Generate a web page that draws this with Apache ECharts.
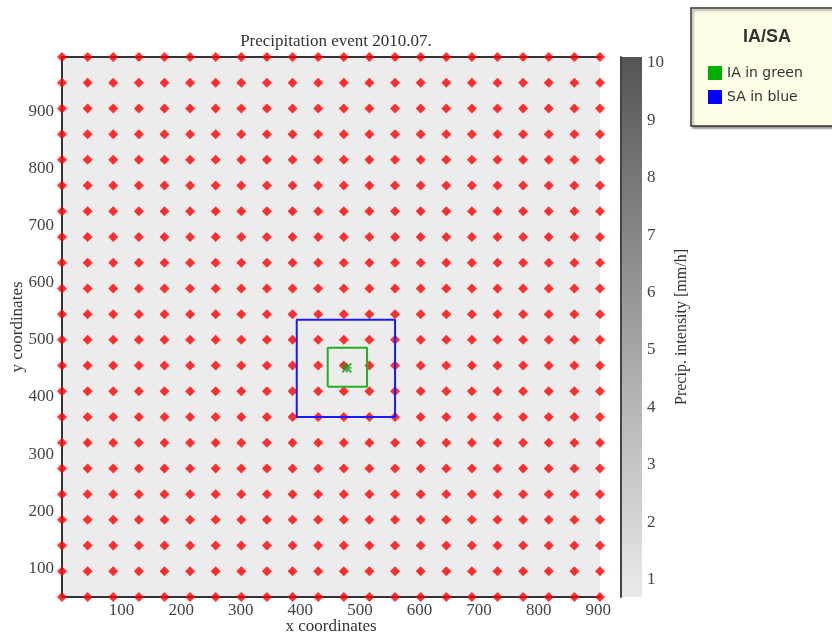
<!DOCTYPE html>
<html>
<head>
<meta charset="utf-8">
<script src="https://cdn.jsdelivr.net/npm/echarts@6/dist/echarts.min.js"></script>
<style>html,body{margin:0;padding:0;background:#fff}#c{width:832px;height:635px}</style>
</head>
<body>
<div id="c"></div>
<script>
// ---- data ----
const titleText = 'Precipitation event 2010.07.';
const xGrid = [0, 43, 86, 129, 172, 215, 258, 301, 344, 387, 430, 473, 516, 559, 602, 645, 688, 731, 774, 817, 860, 903];
const yGrid = [50, 95, 140, 185, 230, 275, 320, 365, 410, 455, 500, 545, 590, 635, 680, 725, 770, 815, 860, 905, 950, 995];
const xTickLabels = [100, 200, 300, 400, 500, 600, 700, 800, 900];
const yTickLabels = [100, 200, 300, 400, 500, 600, 700, 800, 900];
const cbTickLabels = [1, 2, 3, 4, 5, 6, 7, 8, 9, 10];
const cbRange = [0.7, 10.1];
const iaBox = { x0: 446, x1: 512, y0: 418, y1: 486 };   // IA (green)
const saBox = { x0: 394, x1: 559, y0: 365, y1: 535 };   // SA (blue)
const center = [478, 451];

// ---- build ----
const gridPts = [];
for (const y of yGrid) for (const x of xGrid) gridPts.push([x, y]);
function boxPath(b) { return [[b.x0, b.y0], [b.x1, b.y0], [b.x1, b.y1], [b.x0, b.y1], [b.x0, b.y0]]; }

const serif = 'Liberation Serif';
const chart = echarts.init(document.getElementById('c'), null, { renderer: 'canvas' });
chart.setOption({
  animation: false,
  backgroundColor: '#ffffff',
  title: [
    { text: titleText, left: 331, top: 28, textAlign: 'center',
      textStyle: { fontFamily: serif, fontSize: 17, fontWeight: 'normal', color: '#333' } },
    { text: 'IA/SA', left: 762, top: 23, textAlign: 'center',
      textStyle: { fontFamily: 'Liberation Sans', fontSize: 18, fontWeight: 'bold', color: '#333' } }
  ],
  legend: {
    data: ['IA in green', 'SA in blue'],
    orient: 'vertical', left: 691, top: 8,
    padding: [58, 60, 22, 17],
    itemWidth: 14, itemHeight: 14, itemGap: 10, icon: 'rect',
    backgroundColor: '#fffde6', borderColor: '#333', borderWidth: 1.5,
    shadowColor: 'rgba(0,0,0,0.35)', shadowOffsetX: 2, shadowOffsetY: 2, shadowBlur: 2,
    textStyle: { fontFamily: 'DejaVu Sans', fontSize: 14, color: '#333' },
    selectedMode: false
  },
  grid: [
    { left: 62, top: 57, width: 538, height: 540, show: true, backgroundColor: '#ececec', borderWidth: 0,
      outerBoundsMode: 'none', containLabel: false },
    { left: 621, top: 57, width: 21, height: 540, outerBoundsMode: 'none', containLabel: false }
  ],
  xAxis: [
    { type: 'value', gridIndex: 0, min: 0, max: 903, interval: 100,
      name: 'x coordinates', nameLocation: 'middle', nameGap: 21, nameMoveOverlap: false,
      nameTextStyle: { fontFamily: serif, fontSize: 17, color: '#333' },
      axisLine: { show: true, onZero: false, lineStyle: { color: '#333', width: 2 } },
      axisTick: { show: false }, splitLine: { show: false },
      axisLabel: { margin: 5, fontFamily: serif, fontSize: 17, color: '#444',
        formatter: v => xTickLabels.includes(v) ? String(v) : '' } },
    { type: 'value', gridIndex: 0, position: 'top', min: 0, max: 903,
      axisLine: { show: true, onZero: false, lineStyle: { color: '#333', width: 2 } },
      axisTick: { show: false }, axisLabel: { show: false }, splitLine: { show: false } },
    { type: 'category', gridIndex: 1, data: [''], show: false }
  ],
  yAxis: [
    { type: 'value', gridIndex: 0, min: 50, max: 995, interval: 50,
      name: 'y coordinates', nameLocation: 'middle', nameGap: 36, nameMoveOverlap: false,
      nameTextStyle: { fontFamily: serif, fontSize: 17, color: '#333' },
      axisLine: { show: true, onZero: false, lineStyle: { color: '#333', width: 2 } },
      axisTick: { show: false }, splitLine: { show: false },
      axisLabel: { margin: 8, fontFamily: serif, fontSize: 17, color: '#444',
        formatter: v => yTickLabels.includes(v) ? String(v) : '' } },
    { type: 'value', gridIndex: 1, position: 'left', min: cbRange[0], max: cbRange[1], z: 5,
      axisLine: { show: true, onZero: false, lineStyle: { color: '#444', width: 2 } },
      axisTick: { show: false }, axisLabel: { show: false }, splitLine: { show: false } },
    { type: 'value', gridIndex: 1, position: 'right', min: cbRange[0], max: cbRange[1], splitNumber: 10,
      name: 'Precip. intensity [mm/h]', nameLocation: 'middle', nameGap: 32, nameMoveOverlap: false,
      nameTextStyle: { fontFamily: serif, fontSize: 16, color: '#333' },
      axisLine: { show: false }, axisTick: { show: false }, splitLine: { show: false },
      axisLabel: { margin: 5, fontFamily: serif, fontSize: 17, color: '#444',
        formatter: v => { const r = Math.round(v); return (Math.abs(v - r) < 1e-6 && cbTickLabels.includes(r)) ? String(r) : ''; } } }
  ],
  series: [
    { name: 'grid points', type: 'scatter', xAxisIndex: 0, yAxisIndex: 0,
      data: gridPts, symbol: 'diamond', symbolSize: [10, 10],
      itemStyle: { color: '#ff0000' }, silent: true, z: 3 },
    { name: 'SA in blue', type: 'line', xAxisIndex: 0, yAxisIndex: 0,
      data: boxPath(saBox), showSymbol: false, symbol: 'none',
      lineStyle: { color: '#1a1aff', width: 2 }, itemStyle: { color: '#0000ff' }, z: 4 },
    { name: 'IA in green', type: 'line', xAxisIndex: 0, yAxisIndex: 0,
      data: boxPath(iaBox), showSymbol: false, symbol: 'none',
      lineStyle: { color: '#22b022', width: 2 }, itemStyle: { color: '#00b000' }, z: 4 },
    { name: 'center', type: 'scatter', xAxisIndex: 0, yAxisIndex: 0,
      data: [center], symbol: 'path://M0,0L10,10M10,0L0,10M5,0L5,10M0,5L10,5', symbolSize: 9,
      itemStyle: { color: 'none', borderColor: '#1a9a1a', borderWidth: 2 }, z: 5 },
    { name: 'colorbar', type: 'bar', xAxisIndex: 2, yAxisIndex: 2,
      data: [cbRange[1]], barWidth: '100%', silent: true,
      itemStyle: { color: new echarts.graphic.LinearGradient(0, 0, 0, 1, [
        { offset: 0, color: '#555555' }, { offset: 1, color: '#eaeaea' }]) } }
  ]
});
</script>
</body>
</html>
